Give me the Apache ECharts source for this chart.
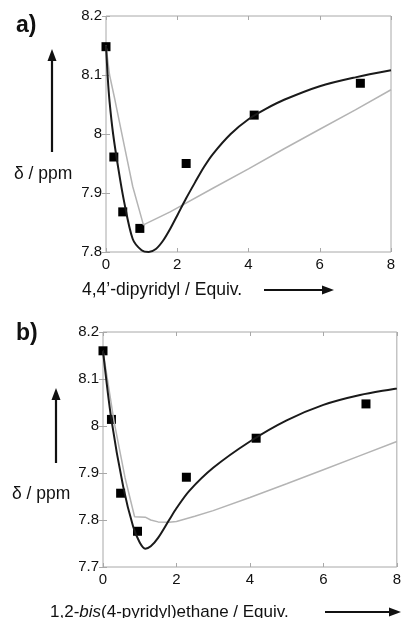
<!DOCTYPE html>
<html>
<head>
<meta charset="utf-8">
<script src="https://cdn.jsdelivr.net/npm/echarts@6/dist/echarts.min.js"></script>
<style>
  html, body { margin: 0; padding: 0; background: #fff; }
  #chart { width: 404px; height: 618px; }
</style>
</head>
<body>
<div id="chart"></div>
<script>
// panel a) 4,4'-dipyridyl
const aPointX = [0, 0.22, 0.47, 0.95, 2.25, 4.16, 7.14];
const aPointY = [8.148, 7.961, 7.868, 7.840, 7.950, 8.032, 8.086];
const aFitX = [0, 0.05, 0.1, 0.2, 0.35, 0.5, 0.75, 1.0, 1.2, 1.4, 1.6, 1.8, 2.0, 2.25, 2.5, 2.75, 3.0, 3.5, 4.0, 4.5, 5.0, 6.0, 7.0, 8.0];
const aFitY = [8.15, 8.095, 8.055, 8.0, 7.94, 7.888, 7.822, 7.803, 7.800, 7.805, 7.819, 7.839, 7.862, 7.891, 7.918, 7.944, 7.966, 8.0, 8.025, 8.043, 8.058, 8.081, 8.096, 8.108];
const aAltX = [0, 0.1, 0.25, 0.5, 0.75, 1.05, 1.1, 1.8, 3, 4, 5, 6, 7, 8];
const aAltY = [8.15, 8.10, 8.058, 7.984, 7.911, 7.846, 7.845, 7.868, 7.908, 7.941, 7.975, 8.008, 8.041, 8.075];

// panel b) 1,2-bis(4-pyridyl)ethane
const bPointX = [0, 0.23, 0.48, 0.94, 2.27, 4.17, 7.16];
const bPointY = [8.16, 8.014, 7.857, 7.776, 7.891, 7.974, 8.047];
const bFitX = [0, 0.23, 0.55, 0.82, 1.0, 1.15, 1.3, 1.5, 1.8, 2.0, 2.35, 3.0, 4.0, 5.0, 6.0, 7.0, 8.0];
const bFitY = [8.16, 8.013, 7.871, 7.786, 7.752, 7.739, 7.744, 7.762, 7.800, 7.825, 7.862, 7.911, 7.967, 8.012, 8.045, 8.066, 8.080];
const bAltX = [0, 0.3, 0.6, 0.86, 1.15, 1.3, 1.5, 1.8, 2.0, 2.5, 3, 4, 5, 6, 7, 8];
const bAltY = [8.16, 8.01, 7.89, 7.807, 7.806, 7.80, 7.796, 7.795, 7.797, 7.808, 7.82, 7.848, 7.877, 7.907, 7.937, 7.967];

const xTicks = [0, 2, 4, 6, 8];
const aYRange = [7.8, 8.2];
const bYRange = [7.7, 8.2];

const font = "'Liberation Sans', Arial, sans-serif";
const frame = '#a8a8a8';

function pairs(xs, ys) {
  return xs.map((x, i) => [x, ys[i]]);
}

function xAxisFor(grid, pos) {
  return {
    type: 'value', gridIndex: grid, position: pos,
    min: xTicks[0], max: xTicks[xTicks.length - 1], interval: 2,
    axisLine: { show: false },
    axisTick: { show: true, inside: true, length: 4, lineStyle: { color: frame } },
    axisLabel: {
      show: pos === 'bottom', color: '#111', fontSize: 15, fontFamily: font, margin: 5
    },
    splitLine: { show: false }
  };
}

function yAxisFor(grid, pos, range) {
  return {
    type: 'value', gridIndex: grid, position: pos,
    min: range[0], max: range[1], interval: 0.1,
    axisLine: { show: false },
    axisTick: { show: true, inside: true, length: 4, lineStyle: { color: frame } },
    axisLabel: {
      show: pos === 'left', color: '#111', fontSize: 15, fontFamily: font, margin: 4,
      formatter: v => String(+v.toFixed(1))
    },
    splitLine: { show: false }
  };
}

function arrow(x1, y1, x2, y2) {
  const dx = x2 - x1, dy = y2 - y1;
  const len = Math.sqrt(dx * dx + dy * dy);
  const ux = dx / len, uy = dy / len;
  const hl = 12, hw = 4.5;
  const bx = x2 - ux * hl, by = y2 - uy * hl;
  return [
    { type: 'line', shape: { x1: x1, y1: y1, x2: bx, y2: by }, style: { stroke: '#111', lineWidth: 2.2 } },
    { type: 'polygon', shape: { points: [[x2, y2], [bx - uy * hw, by + ux * hw], [bx + uy * hw, by - ux * hw]] }, style: { fill: '#111' } }
  ];
}

function label(text, x, y, size, weight) {
  return {
    type: 'text', x: x, y: y,
    style: { text: text, fill: '#111', font: (weight || 'normal') + ' ' + size + 'px ' + font, textVerticalAlign: 'middle' }
  };
}

const chart = echarts.init(document.getElementById('chart'));

chart.setOption({
  animation: false,
  backgroundColor: '#fff',
  grid: [
    { left: 106, top: 16, width: 285, height: 236, show: true, borderColor: frame, borderWidth: 1 },
    { left: 103, top: 332, width: 297, height: 235, show: true, borderColor: frame, borderWidth: 1 }
  ],
  xAxis: [xAxisFor(0, 'bottom'), xAxisFor(0, 'top'), xAxisFor(1, 'bottom'), xAxisFor(1, 'top')],
  yAxis: [yAxisFor(0, 'left', aYRange), yAxisFor(0, 'right', aYRange), yAxisFor(1, 'left', bYRange), yAxisFor(1, 'right', bYRange)],
  series: [
    { type: 'line', xAxisIndex: 0, yAxisIndex: 0, data: pairs(aAltX, aAltY), showSymbol: false,
      lineStyle: { color: '#b4b4b4', width: 1.5 } },
    { type: 'line', xAxisIndex: 0, yAxisIndex: 0, data: pairs(aFitX, aFitY), showSymbol: false, smooth: 0.3,
      lineStyle: { color: '#1a1a1a', width: 2 } },
    { type: 'scatter', xAxisIndex: 0, yAxisIndex: 0, data: pairs(aPointX, aPointY), symbol: 'rect', symbolSize: 9,
      itemStyle: { color: '#000', opacity: 1 } },
    { type: 'line', xAxisIndex: 2, yAxisIndex: 2, data: pairs(bAltX, bAltY), showSymbol: false,
      lineStyle: { color: '#b4b4b4', width: 1.5 } },
    { type: 'line', xAxisIndex: 2, yAxisIndex: 2, data: pairs(bFitX, bFitY), showSymbol: false, smooth: 0.3,
      lineStyle: { color: '#1a1a1a', width: 2 } },
    { type: 'scatter', xAxisIndex: 2, yAxisIndex: 2, data: pairs(bPointX, bPointY), symbol: 'rect', symbolSize: 9,
      itemStyle: { color: '#000', opacity: 1 } }
  ],
  graphic: [
    label('a)', 16, 26, 23, 'bold'),
    label('b)', 16, 334, 23, 'bold'),
    label('δ / ppm', 14, 174, 17.5),
    label('δ / ppm', 12, 494, 17.5),
    label('4,4\u2019-dipyridyl / Equiv.', 82, 290, 17.5),
    {
      type: 'text', x: 50, y: 612,
      style: {
        text: '1,2-{i|bis}(4-pyridyl)ethane / Equiv.',
        fill: '#111', font: '17px ' + font, textVerticalAlign: 'middle',
        rich: { i: { fontStyle: 'italic', fontSize: 17, fontFamily: font, fill: '#111' } }
      }
    }
  ].concat(
    arrow(52, 152, 52, 49),
    arrow(56, 463, 56, 388),
    arrow(264, 290, 334, 290),
    arrow(325, 612, 401, 612)
  )
});
</script>
</body>
</html>
